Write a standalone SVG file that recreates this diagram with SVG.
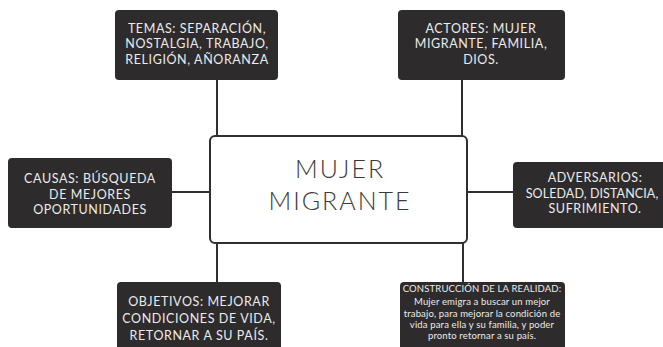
<svg xmlns="http://www.w3.org/2000/svg" width="663" height="347" viewBox="0 0 663 347">
<style>
.box{fill:#2d2b2b;}
.t{font-family:Lato,"Open Sans","DejaVu Sans",sans-serif;fill:#ececec;text-anchor:middle;font-size:12.5px;letter-spacing:0.6px;}
.s{font-family:Lato,"Open Sans","DejaVu Sans",sans-serif;fill:#ececec;text-anchor:middle;font-size:9.5px;letter-spacing:0.15px;}
.c{font-family:Lato,"Open Sans","DejaVu Sans",sans-serif;fill:#3a3a3a;text-anchor:middle;font-size:25px;font-weight:300;letter-spacing:2px;}
.ln{stroke:#2f2f2f;stroke-width:2;fill:none;}
</style>
<rect width="663" height="347" fill="#ffffff"/>
<g id="connectors">
<line class="ln" x1="217" y1="80" x2="217" y2="136"/>
<line class="ln" x1="462" y1="80" x2="462" y2="136"/>
<line class="ln" x1="217" y1="243" x2="217" y2="282"/>
<line class="ln" x1="463" y1="243" x2="463" y2="282"/>
<line class="ln" x1="172" y1="192" x2="210" y2="192"/>
<line class="ln" x1="467" y1="192" x2="513" y2="192"/>
</g>
<g id="center">
<rect x="210" y="136" width="257" height="107" rx="5" fill="#ffffff" stroke="#2f2f2f" stroke-width="2"/>
<text class="c" x="340" y="178">MUJER</text>
<text class="c" x="340" y="210">MIGRANTE</text>
</g>
<g id="temas">
<rect class="box" x="115" y="10" width="163" height="70" rx="4"/>
<text class="t" x="197" y="33">TEMAS: SEPARACIÓN,</text>
<text class="t" x="197" y="48">NOSTALGIA, TRABAJO,</text>
<text class="t" x="197" y="64">RELIGIÓN, AÑORANZA</text>
</g>
<g id="actores">
<rect class="box" x="398" y="10" width="167" height="70" rx="4"/>
<text class="t" x="481" y="33">ACTORES: MUJER</text>
<text class="t" x="481" y="48">MIGRANTE, FAMILIA,</text>
<text class="t" x="481" y="64">DIOS.</text>
</g>
<g id="causas">
<rect class="box" x="8" y="158" width="164" height="70" rx="4"/>
<text class="t" x="90" y="183">CAUSAS: BÚSQUEDA</text>
<text class="t" x="90" y="199">DE MEJORES</text>
<text class="t" x="90" y="214">OPORTUNIDADES</text>
</g>
<g id="adversarios">
<rect class="box" x="513" y="162" width="170" height="66" rx="4"/>
<text class="t" x="595" y="182">ADVERSARIOS:</text>
<text class="t" x="592" y="198" style="letter-spacing:0.1px">SOLEDAD, DISTANCIA,</text>
<text class="t" x="595" y="213">SUFRIMIENTO.</text>
</g>
<g id="objetivos">
<rect class="box" x="117" y="282" width="164" height="75" rx="4"/>
<text class="t" x="199" y="306">OBJETIVOS: MEJORAR</text>
<text class="t" x="199" y="323">CONDICIONES DE VIDA,</text>
<text class="t" x="199" y="340">RETORNAR A SU PAÍS.</text>
</g>
<g id="construccion">
<rect class="box" x="400" y="282" width="165" height="75" rx="4"/>
<text class="s" x="482" y="292">CONSTRUCCIÓN DE LA REALIDAD:</text>
<text class="s" x="482" y="305">Mujer emigra a buscar un mejor</text>
<text class="s" x="482" y="317">trabajo, para mejorar la condición de</text>
<text class="s" x="482" y="328">vida para ella y su familia, y poder</text>
<text class="s" x="482" y="339">pronto retornar a su país.</text>
</g>
</svg>
